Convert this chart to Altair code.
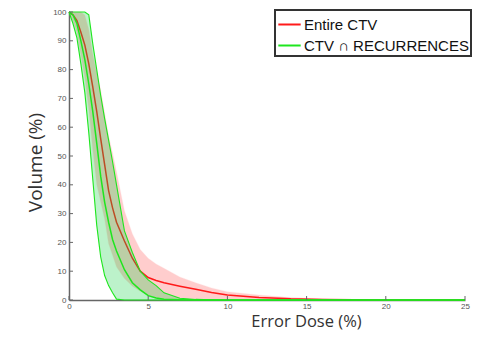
import altair as alt
import pandas as pd

# Error dose grid (%)
dose = [0, 0.25, 0.5, 0.75, 1, 1.25, 1.5, 1.75, 2, 2.25, 2.5, 2.75, 3, 3.5, 4, 4.5,
        5, 5.5, 6, 7, 8, 9, 10, 12, 14, 16, 18, 20, 25]

# Entire CTV: mean and band (volume %)
red_mean = [100, 99, 97, 93, 88.5, 82, 74, 65.5, 56, 47, 38, 32, 27, 20.5, 14.5, 10,
            7.8, 6.8, 6, 4.8, 3.7, 2.6, 1.7, 0.9, 0.4, 0.2, 0.05, 0, 0]
red_upper = [100, 100, 100, 100, 99, 94, 85.5, 79, 73, 65, 57, 51, 44.5, 31, 23, 17.5,
             14.5, 12.5, 11, 8, 6, 4.2, 2.9, 1.7, 0.9, 0.4, 0.1, 0, 0]
red_lower = [100, 97, 93, 85, 77, 66, 52, 40, 34, 28, 19.5, 15.5, 11.5, 7.5, 4.8, 3,
             1.5, 0.7, 0.3, 0, 0, 0, 0, 0, 0, 0, 0, 0, 0]

# CTV ∩ RECURRENCES: mean and band
green_mean = [100, 99, 96, 90, 83.5, 75, 65.5, 54.5, 43, 34, 27, 21, 17, 10.5, 6, 3.5,
              1.5, 0.7, 0.3, 0.1, 0, 0, 0, 0, 0, 0, 0, 0, 0]
green_upper = [100, 100, 100, 100, 100, 99, 89, 80, 71, 63, 55.5, 48, 40, 24, 16.5, 10,
               7, 5, 2.5, 0.6, 0.2, 0.05, 0, 0, 0, 0, 0, 0, 0]
green_lower = [100, 96, 91, 82, 72, 58, 42, 26, 15, 8.5, 5, 2.5, 0.3, 0, 0, 0,
               0, 0, 0, 0, 0, 0, 0, 0, 0, 0, 0, 0, 0]

series_names = ["Entire CTV", "CTV \u2229 RECURRENCES"]
series_colors = ["#ff1a1a", "#1ee61e"]

x_ticks = [0, 5, 10, 15, 20, 25]
y_ticks = [0, 10, 20, 30, 40, 50, 60, 70, 80, 90, 100]

band = pd.DataFrame({"dose": dose, "ru": red_upper, "rl": red_lower,
                     "gu": green_upper, "gl": green_lower})

mean_df = pd.concat([
    pd.DataFrame({"dose": dose, "vol": red_mean, "series": series_names[0], "curve": "rm"}),
    pd.DataFrame({"dose": dose, "vol": green_mean, "series": series_names[1], "curve": "gm"}),
])
red_mean_df = mean_df[mean_df.curve == "rm"]
green_mean_df = mean_df[mean_df.curve == "gm"]
edge_df = pd.concat([
    pd.DataFrame({"dose": dose, "vol": green_upper, "curve": "gu"}),
    pd.DataFrame({"dose": dose, "vol": green_lower, "curve": "gl"}),
])

xs = alt.Scale(domain=[0, 25], nice=False)
ys = alt.Scale(domain=[0, 100], nice=False)

x_axis = alt.Axis(values=x_ticks, title="Error Dose (%)", grid=False, ticks=False,
                  labelFontSize=8, labelColor="#555", labelPadding=2, labelFlush=False,
                  domainColor="#666", domainWidth=1.5,
                  titleFontSize=16.5, titleFont="Open Sans", titleFontWeight="normal",
                  titleColor="#333", titleX=237, titleY=26, titleAlign="center",
                  titleBaseline="alphabetic")
y_axis = alt.Axis(values=y_ticks, title="Volume (%)", grid=False, ticks=False,
                  labelFontSize=8, labelColor="#555", labelPadding=3, labelFlush=False,
                  domainColor="#666", domainWidth=1.5,
                  titleFontSize=19, titleFont="Open Sans", titleFontWeight="normal",
                  titleColor="#333", titleX=-28, titleY=150, titleAngle=270,
                  titleAlign="center", titleBaseline="alphabetic")


def X(field="dose:Q"):
    return alt.X(field, scale=xs, axis=x_axis)


def Y(field):
    return alt.Y(field, scale=ys, axis=y_axis)


red_band = alt.Chart(band).mark_area(color="#ff2020", opacity=0.22,
                                     stroke="#ff8080", strokeWidth=0.6, strokeOpacity=0.5).encode(
    x=X(), y=Y("ru:Q"), y2="rl:Q")

color = alt.Color("series:N", scale=alt.Scale(domain=series_names, range=series_colors),
                  legend=alt.Legend(title=None))

red_line = alt.Chart(red_mean_df).mark_line(strokeWidth=1.5).encode(
    x=X(), y=Y("vol:Q"), color=color)

green_band = alt.Chart(band).mark_area(color="#10d040", opacity=0.28).encode(
    x=X(), y=Y("gu:Q"), y2="gl:Q")

green_edges = alt.Chart(edge_df).mark_line(strokeWidth=1.1, color="#1ee61e").encode(
    x=X(), y=Y("vol:Q"), detail="curve:N")

green_line = alt.Chart(green_mean_df).mark_line(strokeWidth=1.5).encode(
    x=X(), y=Y("vol:Q"), color=color)

xt = alt.Chart(pd.DataFrame({"t": x_ticks})).mark_rule(color="#666", strokeWidth=1).encode(
    x=X("t:Q"), y=alt.value(288), y2=alt.value(284))
yt = alt.Chart(pd.DataFrame({"t": y_ticks})).mark_rule(color="#666", strokeWidth=1).encode(
    y=Y("t:Q"), x=alt.value(0), x2=alt.value(4))

chart = alt.layer(red_band, red_line, green_band, green_edges, green_line, xt, yt).properties(
    width=396, height=288,
    autosize=alt.AutoSizeParams(type="none"),
    padding={"left": 61, "top": 4, "right": 13, "bottom": 30},
).configure_view(stroke=None).configure_legend(
    orient="none", legendX=206, legendY=-2,
    strokeColor="#333", strokeWidth=2, padding=2, fillColor="white",
    symbolType="stroke", symbolSize=500, symbolStrokeWidth=2,
    labelFontSize=15, labelFont="Liberation Sans", labelColor="#111",
    labelLimit=300, rowPadding=0, labelOffset=2,
)

chart.save("out.html", embed_options={"renderer": "svg", "actions": False})
